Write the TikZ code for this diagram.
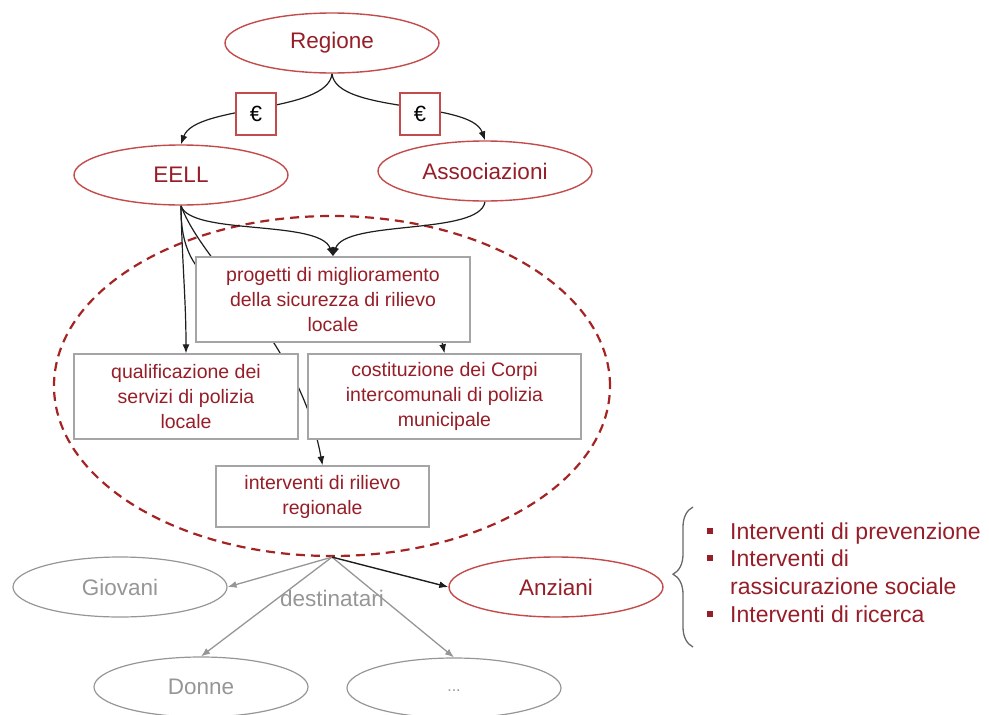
\documentclass[tikz,border=0pt]{standalone}
\usepackage{fontspec}
\setmainfont{Liberation Sans}
\usetikzlibrary{arrows.meta,shapes.geometric,decorations.pathreplacing,calc}
\definecolor{txtred}{RGB}{150,30,40}
\definecolor{linered}{RGB}{195,75,75}
\definecolor{dashred}{RGB}{165,35,35}
\definecolor{boxgrey}{RGB}{165,165,165}
\definecolor{softgrey}{RGB}{150,150,150}
\definecolor{bracegrey}{RGB}{105,105,105}
\definecolor{ink}{RGB}{30,30,30}
\pgfdeclarelayer{back}
\pgfsetlayers{back,main}

\begin{document}
\begin{tikzpicture}[x=1pt,y=-1pt,
  bigfont/.style={font=\fontsize{22.5}{27}\selectfont},
  actor/.style={ellipse, draw=linered, line width=1.4pt, minimum width=214pt,
    minimum height=60pt, inner sep=0pt, text=txtred, bigfont},
  target/.style={ellipse, draw=softgrey, line width=1.2pt, minimum width=214pt,
    minimum height=60pt, inner sep=0pt, text=softgrey, bigfont},
  activity/.style={rectangle, draw=boxgrey, line width=1.3pt, fill=white,
    inner sep=0pt, align=center, text=txtred,
    font=\fontsize{19.5}{25}\selectfont},
  money/.style={rectangle, draw=linered, line width=1.3pt, fill=white,
    minimum width=40pt, minimum height=42pt, inner sep=0pt,
    font=\fontsize{22}{24}\selectfont},
  flow/.style={draw=ink, line width=1.2pt, -{Latex[length=9pt,width=7pt]}},
  reach/.style={draw=softgrey, line width=1.3pt, -{Latex[length=9pt,width=7pt]}},
  keyflow/.style={draw=ink, line width=1.4pt, -{Latex[length=9pt,width=7pt]}},
  bullet/.style={rectangle, fill=txtred, minimum size=6pt, inner sep=0pt},
  itemtext/.style={anchor=base west, inner sep=0pt, text=txtred,
    font=\fontsize{23}{28}\selectfont}
]
\useasboundingbox (0,0) rectangle (989,715);

% funding bodies
\node[actor] (regione) at (332,43) {Regione};
\node[actor] (eell) at (181,175) {EELL};
\node[actor] (assoc) at (485,171) {Associazioni};

% activities
\node[activity, minimum width=274pt, minimum height=85pt] (progetti) at (333,299.5)
  {progetti di miglioramento\\della sicurezza di rilievo\\locale};
\node[activity, minimum width=224pt, minimum height=85pt] (qualif) at (186,396.5)
  {qualificazione dei\\servizi di polizia\\locale};
\node[activity, minimum width=273pt, minimum height=85pt] (corpi) at (444.5,396.5)
  {costituzione dei Corpi\\intercomunali di polizia\\municipale};
\node[activity, minimum width=213pt, minimum height=61pt] (interv) at (322.5,496.5)
  {interventi di rilievo\\regionale};

% recipients
\node[target] (giovani) at (120,587) {Giovani};
\node[actor] (anziani) at (556,587) {Anziani};
\node[target] (donne) at (201,687) {Donne};
\node[target, font=\fontsize{16}{20}\selectfont] (altri) at (454,688) {\vphantom{Dg}...};

\begin{pgfonlayer}{back}
  % area of the funded activities
  \node[ellipse, draw=dashred, line width=2.2pt, dash pattern=on 9pt off 6pt,
    minimum width=556pt, minimum height=340pt, inner sep=0pt] (area) at (332,386) {};
  \coordinate (root) at (area.south);

  % funding flows
  \draw[flow] (regione.south) .. controls +(-4,40) and +(14,-40) .. (eell.north);
  \draw[flow] (regione.south) .. controls +(4,40) and +(-14,-40) .. (assoc.north);

  % links towards the activities
  \draw[flow] (eell.south) .. controls +(9,30) and +(-13,-37) .. (progetti.north);
  \draw[flow] (assoc.south) .. controls +(-5,34) and +(12,-37) .. (progetti.north);
  \draw[flow] (eell.south) .. controls +(1,55) and +(0,-54) .. (qualif.north);
  \draw[flow] (eell.south) .. controls +(-3,170) and +(-24,-114) .. (corpi.north);
  \draw[flow] (eell.south) .. controls +(22,60) and +(-23,-126) .. (interv.north);

  % recipients
  \draw[reach] (root) -- (giovani.east);
  \draw[reach] (root) -- (donne.north);
  \draw[reach] (root) -- (altri.north);
  \draw[keyflow] (root) -- (anziani.west);
\end{pgfonlayer}

% money markers on the funding flows
\node[money] (euroA) at (256,114) {€};
\node[money] (euroB) at (420,114) {€};

\node[text=softgrey, bigfont, inner sep=0pt] (dest) at (332,598) {destinatari};

% interventions for the elderly
\coordinate (braceBot) at (693,647);
\coordinate (braceTop) at (693,507);
\draw[bracegrey, line width=1.3pt, decorate,
  decoration={brace, amplitude=20pt, aspect=0.52}] (braceBot) -- (braceTop);

\node[bullet] (b1) at (710,531) {};
\node[bullet] (b2) at (710,558) {};
\node[bullet] (b3) at (710,614) {};
\node[itemtext] (t1) at (730,539) {Interventi di prevenzione};
\node[itemtext] (t2) at (730,566) {Interventi di};
\node[itemtext] (t3) at (730,594) {rassicurazione sociale};
\node[itemtext] (t4) at (730,622) {Interventi di ricerca};
\end{tikzpicture}
\end{document}
